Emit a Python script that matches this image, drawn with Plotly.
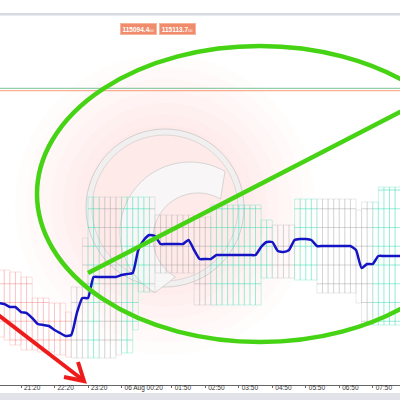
import numpy as np
import pandas as pd
import plotly.graph_objects as go

# ---------------- data ----------------
line_start = "2025-08-05 20:40"
line_prices = [
    113396, 113388, 113364, 113364, 113324, 113316, 113276, 113228, 113220, 113212,
    113180, 113156, 113132, 113140, 113316, 113436, 113436, 113604, 113604, 113604,
    113604, 113604, 113620, 113628, 113636, 113820, 113900, 113940, 113932, 113868,
    113868, 113868, 113868, 113868, 113900, 113820, 113748, 113748, 113748, 113780,
    113780, 113780, 113780, 113780, 113780, 113780, 113780, 113844, 113884, 113884,
    113812, 113804, 113820, 113900, 113908, 113908, 113900, 113852, 113852, 113852,
    113852, 113852, 113852, 113852, 113820, 113676, 113708, 113708, 113772, 113772,
    113772, 113772, 113772,
]

col_start = "2025-08-05 20:45"
col_high = [
    113660, 113660, 113644, 113644, 113604, 113604, 113436, 113436, 113436, 113396,
    113396, 113396, 113324, 113524, 113524, 113916, 114244, 114244, 114244, 114244,
    114244, 114244, 114244, 114244, 114244, 114244, 114244, 114244, 114100, 114100,
    114100, 114100, 114100, 114100, 114100, 114084, 114084, 114084, 114180, 114180,
    114180, 114180, 114180, 114180, 114180, 114180, 114180, 114060, 114060, 114020,
    114020, 114020, 114020, 114228, 114228, 114228, 114228, 114228, 114228, 114228,
    114228, 114228, 114228, 114228, 114140, 114204, 114204, 114204, 114324, 114324,
    114324, 114324,
]
col_low = [
    113124, 113100, 113060, 113060, 113020, 113020, 113020, 113004, 113004, 113004,
    112980, 112980, 112964, 112956, 112956, 112956, 112956, 112956, 112956, 112956,
    112956, 112980, 112996, 112996, 113180, 113484, 113484, 113484, 113636, 113636,
    113636, 113636, 113636, 113636, 113636, 113380, 113380, 113380, 113380, 113380,
    113380, 113380, 113380, 113380, 113380, 113380, 113380, 113596, 113596, 113596,
    113596, 113596, 113596, 113580, 113580, 113580, 113580, 113476, 113476, 113476,
    113476, 113476, 113476, 113476, 113396, 113220, 113220, 113220, 113220, 113220,
    113220, 113220,
]
col_kind = (["red"] * 13 + ["grey"] * 3 + ["aqua"] * 2 + ["grey"] * 4 + ["aqua"] * 5
            + ["grey"] * 11 + ["aqua"] * 9 + ["aqua"] * 2 + ["grey"] * 4 + ["aqua"] * 4
            + ["grey"] * 7 + ["grey"] * 3 + ["aqua"] * 5)

tick_times = ["2025-08-05 21:20", "2025-08-05 22:20", "2025-08-05 23:20",
              "2025-08-06 00:20", "2025-08-06 01:50", "2025-08-06 02:50",
              "2025-08-06 03:50", "2025-08-06 04:50", "2025-08-06 05:50",
              "2025-08-06 06:50", "2025-08-06 07:50"]
tick_labels = ["21:20", "22:20", "23:20", "06 Aug 00:20", "01:50", "02:50",
               "03:50", "04:50", "05:50", "06:50", "07:50"]

level_prices = [115113.7, 115094.4]
level_colors = ["rgba(110,190,150,0.95)", "rgba(245,150,110,0.95)"]
badge_prices = [115094.4, 115113.7]

x_range = ["2025-08-05 20:42:22", "2025-08-06 08:38:48"]
y_range = [112740.1, 115700.1]
CELL = 150

kind_color = {"red": "rgba(240,110,110,0.32)",
              "grey": "rgba(150,150,150,0.32)",
              "aqua": "rgba(60,220,180,0.42)"}

line_times = pd.date_range(line_start, periods=len(line_prices), freq="10min")
col_times = pd.date_range(col_start, periods=len(col_high), freq="10min")

fig = go.Figure()

# cluster columns made of cells
for kind in ["red", "grey", "aqua"]:
    xs, bases, hs = [], [], []
    for t, hi, lo, k in zip(col_times, col_high, col_low, col_kind):
        if k != kind:
            continue
        edges = [lo] + [v for v in range(int(np.ceil(lo / CELL)) * CELL, hi, CELL) if v > lo + 20 and v < hi - 20] + [hi]
        for a, b in zip(edges[:-1], edges[1:]):
            xs.append(t)
            bases.append(a)
            hs.append(b - a)
    fig.add_trace(go.Bar(x=xs, y=hs, base=bases, width=600000,
                         marker=dict(color="rgba(255,255,255,0)",
                                     line=dict(color=kind_color[kind], width=0.7)),
                         hoverinfo="skip", showlegend=False))

fig.add_trace(go.Scatter(x=line_times, y=line_prices, mode="lines",
                         line=dict(color="#1414c4", width=2.5, shape="spline", smoothing=0.5),
                         showlegend=False))

# ---------------- decorations ----------------
def PX(x):
    return x / 400.0


def PY(y):
    return (385.0 - y) / 370.0


shapes = []
# top & bottom grey bands
shapes.append(dict(type="rect", xref="paper", yref="paper", x0=-0.01, x1=1.01,
                   y0=PY(15.5), y1=PY(13), fillcolor="#d6dbe1", line=dict(width=0), layer="below"))
shapes.append(dict(type="rect", xref="paper", yref="paper", x0=-0.01, x1=1.01,
                   y0=PY(401), y1=PY(393), fillcolor="#e0e4e9", line=dict(width=0), layer="below"))

# watermark glow
gcx, gcy = 165, 205
for r in [150, 138, 126, 114, 102, 90, 80]:
    shapes.append(dict(type="circle", xref="paper", yref="paper",
                       x0=PX(gcx - r), x1=PX(gcx + r), y0=PY(gcy + r), y1=PY(gcy - r),
                       fillcolor="rgba(255,90,90,0.015)", line=dict(width=0), layer="below"))
# ring
rcx, rcy = 165, 208
for r, col, w in [(76, "rgba(240,240,240,0.95)", 5), (79, "rgba(200,200,200,0.8)", 1),
                  (73, "rgba(210,210,210,0.8)", 1)]:
    shapes.append(dict(type="circle", xref="paper", yref="paper",
                       x0=PX(rcx - r), x1=PX(rcx + r), y0=PY(rcy + r), y1=PY(rcy - r),
                       line=dict(color=col, width=w), layer="below"))
# crescent "C"
ccx, ccy, ro, ri = 190, 232, 70, 45
th_o = np.radians(np.linspace(60, 240, 40))
th_i = th_o[::-1]
pts = [(ccx + ro * np.cos(t), ccy - ro * np.sin(t)) for t in th_o] + \
      [(ccx + ri * np.cos(t) + 8, ccy - ri * np.sin(t) + 6) for t in th_i]
path = "M " + " L ".join(f"{PX(x):.4f},{PY(y):.4f}" for x, y in pts) + " Z"
shapes.append(dict(type="path", xref="paper", yref="paper", path=path,
                   fillcolor="rgba(247,247,247,0.9)", line=dict(color="rgba(205,205,205,0.8)", width=1),
                   layer="below"))

# price level lines
for p, c in zip(level_prices, level_colors):
    shapes.append(dict(type="line", xref="paper", yref="y", x0=0, x1=1, y0=p, y1=p,
                       line=dict(color=c, width=1)))

# green ellipse & line
shapes.append(dict(type="circle", xref="paper", yref="paper",
                   x0=PX(37), x1=PX(483), y0=PY(342), y1=PY(46),
                   line=dict(color="#45d314", width=4.5)))
shapes.append(dict(type="line", xref="paper", yref="paper",
                   x0=PX(88), y0=PY(273), x1=PX(404), y1=PY(110),
                   line=dict(color="#45d314", width=4.5)))
# red arrow
shapes.append(dict(type="line", xref="paper", yref="paper",
                   x0=PX(-3), y0=PY(314), x1=PX(83), y1=PY(380),
                   line=dict(color="#ee1b1b", width=4)))
shapes.append(dict(type="path", xref="paper", yref="paper",
                   path=f"M {PX(64):.4f},{PY(377):.4f} L {PX(84):.4f},{PY(381):.4f} L {PX(78):.4f},{PY(362):.4f}",
                   line=dict(color="#ee1b1b", width=4)))

annotations = []
for i, p in enumerate(badge_prices):
    cx = [138.5, 177][i]
    annotations.append(dict(xref="paper", yref="paper", x=PX(cx), y=PY(23.5),
                            text=f"<b>{p:.1f}</b><span style='font-size:4px'>00</span>",
                            showarrow=False, font=dict(family="Liberation Sans", size=6.5, color="white"),
                            bgcolor="#f08c6c", bordercolor="#f6b49c", borderwidth=1, borderpad=1,
                            width=33, height=8))

fig.update_layout(
    width=400, height=400,
    margin=dict(l=0, r=0, t=15, b=15, autoexpand=False),
    paper_bgcolor="white", plot_bgcolor="white",
    barmode="overlay", showlegend=False,
    shapes=shapes, annotations=annotations,
    xaxis=dict(type="date", range=x_range, showgrid=False, zeroline=False,
               automargin=False,
               showline=True, linecolor="#666", linewidth=1,
               ticks="outside", ticklen=2, tickcolor="#666",
               tickvals=tick_times, ticktext=tick_labels, tickangle=0,
               ticklabelposition="outside right", ticklabelstandoff=-4, ticklabelshift=2,
               tickfont=dict(family="Liberation Sans", size=6.5, color="#333")),
    yaxis=dict(range=y_range, visible=False, showgrid=False, zeroline=False, automargin=False),
)

fig.write_html("out.html", config={"displayModeBar": False},
               post_script="document.body.style.margin='0';")
